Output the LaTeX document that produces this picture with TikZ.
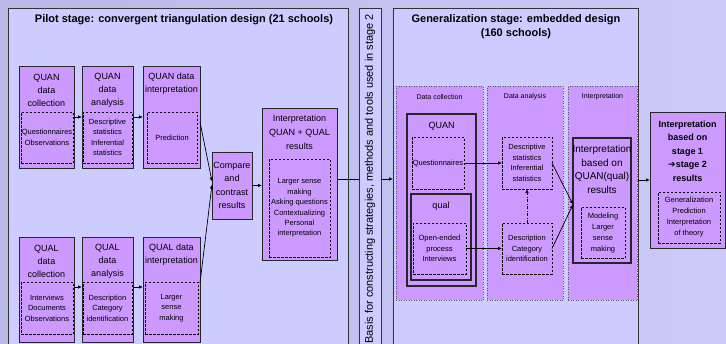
\documentclass[tikz,border=0pt]{standalone}
\usepackage{fontspec}
\setmainfont{Liberation Sans}
\newfontfamily\dejavu{DejaVu Sans}
\usetikzlibrary{arrows.meta}
\definecolor{outerL}{HTML}{B8B8E8}
\definecolor{outerR}{HTML}{CBCBF8}
\definecolor{panelfill}{HTML}{CCCCFF}
\definecolor{boxfill}{HTML}{CC99FF}
\definecolor{edge}{HTML}{333333}
\tikzset{
 wh/.style 2 args={minimum width=#1pt, minimum height=#2pt},
 panel/.style={draw=edge, line width=0.9pt, fill=panelfill, anchor=north west, inner sep=0, outer sep=0},
 box/.style={draw=black!85, line width=0.9pt, fill=boxfill, anchor=north west, inner sep=0, outer sep=0},
 dbox/.style={draw=black, line width=0.75pt, dash pattern=on 2.5pt off 1.5pt, anchor=north west, inner sep=0, outer sep=0},
 subpanel/.style={draw=gray!70!black, line width=0.5pt, dotted, fill=boxfill, anchor=north west, inner sep=0, outer sep=0},
 txt/.style={inner sep=0, align=center, text=black},
 ttl/.style={txt, font=\fontsize{9}{13}\selectfont},
 inn/.style={txt, font=\fontsize{7.5}{10.5}\selectfont},
 lbl/.style={txt, font=\fontsize{7}{9}\selectfont},
 head/.style={txt, font=\fontsize{11}{14}\selectfont\bfseries},
 arr/.style={-{Latex[length=4pt,width=3.5pt]}, line width=0.7pt, draw=black},
 plain/.style={line width=0.7pt, draw=black},
}
\begin{document}
\begin{tikzpicture}[x=1pt,y=-1pt]
\useasboundingbox (0,0) rectangle (726,343);
\clip (0,0) rectangle (726,343);
\shade[left color=outerL, right color=outerR] (0,0) rectangle (726,343);

% panels
\node[panel, wh={340}{345}] (pilot) at (8,8) {};
\node[panel, wh={22}{345}] (strip) at (359,8) {};
\node[panel, wh={245}{345}] (gen) at (393,8) {};

\node[head] (pilottitle) at (184,20) {Pilot stage: convergent triangulation design (21 schools)};
\node[txt, font=\fontsize{11}{13}\selectfont, rotate=90] (striptext) at (370,179) {Basis for constructing strategies, methods and tools used in stage 2};
\node[head] (gentitle) at (516,27) {Generalization stage: embedded design\\(160 schools)};

% ---- pilot stage: QUAN row
\node[box, wh={55}{102}] (qc) at (19,66) {};
\node[dbox, wh={52}{51}] (qcd) at (21,112) {};
\node[box, wh={51}{102}] (qa) at (82,66) {};
\node[dbox, wh={49}{51}] (qad) at (83,112) {};
\node[box, wh={57}{102}] (qi) at (143,66) {};
\node[dbox, wh={50}{51}] (qid) at (147,112) {};
\node[ttl] (qct) at (46.5,90) {QUAN\\data\\collection};
\node[ttl] (qat) at (107.5,90) {QUAN\\data\\analysis};
\node[ttl] (qit) at (171.5,83.5) {QUAN data\\interpretation};
\node[inn] (qcx) at (qcd) {Questionnaires\\Observations};
\node[inn] (qax) at (qad) {Descriptive\\statistics\\Inferential\\statistics};
\node[inn] (qix) at (qid) {Prediction};

% ---- pilot stage: QUAL row
\node[box, wh={55}{105}] (lc) at (19,237) {};
\node[dbox, wh={52}{52}] (lcd) at (21,282) {};
\node[box, wh={51}{105}] (la) at (82,237) {};
\node[dbox, wh={49}{52}] (lad) at (83,282) {};
\node[box, wh={57}{105}] (li) at (143,237) {};
\node[dbox, wh={53}{52}] (lid) at (145,282) {};
\node[ttl] (lct) at (46.5,261) {QUAL\\data\\collection};
\node[ttl] (lat) at (107.5,261) {QUAL\\data\\analysis};
\node[ttl] (lit) at (171.5,255) {QUAL data\\interpretation};
\node[inn] (lcx) at (lcd) {Interviews\\Documents\\Observations};
\node[inn] (lax) at (lad) {Description\\Category\\identification};
\node[inn] (lix) at (lid) {Larger\\sense\\making};

% ---- compare and interpretation
\node[box, wh={40}{67}] (cmp) at (212,152) {};
\node[ttl, font=\fontsize{9}{13.3}\selectfont] (cmpt) at (cmp) {Compare\\and\\contrast\\results};
\node[box, wh={75}{152}] (iq) at (262,108) {};
\node[dbox, wh={61}{98}] (iqd) at (269,159) {};
\node[ttl, font=\fontsize{9}{14}\selectfont] (iqt) at (299.5,132) {Interpretation\\QUAN + QUAL\\results};
\node[inn, font=\fontsize{7.5}{10.4}\selectfont] (iqx) at (iqd) {Larger sense\\making\\Asking questions\\Contextualizing\\Personal\\interpretation};

% arrows pilot
\draw[arr] ([yshift=-51pt]qc.north east) -- ([yshift=-51pt]qa.north west);
\draw[arr] ([yshift=-51pt]qa.north east) -- ([yshift=-51pt]qi.north west);
\draw[arr] ([yshift=-50pt]lc.north east) -- ([yshift=-50pt]la.north west);
\draw[arr] ([yshift=-50pt]la.north east) -- ([yshift=-50pt]li.north west);
\draw[arr] ([yshift=-56pt]qi.north east) -- ([yshift=4pt]cmp.west);
\draw[arr] ([yshift=-46pt]li.north east) -- ([yshift=1pt]cmp.west);
\draw[arr] (cmp.east) -- (cmp.east -| iq.west);
\draw[plain] ([yshift=5pt]iq.east) -- ([yshift=5pt]iq.east -| strip.west);
\draw[arr] ([yshift=5pt]iq.east -| strip.east) -- ([yshift=5pt]iq.east -| gen.west);

% ---- generalization stage
\node[subpanel, wh={87}{214}] (dcol) at (396,86) {};
\node[subpanel, wh={76}{214}] (dana) at (487,86) {};
\node[subpanel, wh={69}{214}] (dint) at (568,86) {};
\node[lbl] (dcolt) at (439.5,96.5) {Data collection};
\node[lbl] (danat) at (525,96.5) {Data analysis};
\node[lbl] (dintt) at (602.5,96.5) {Interpretation};

\node[box, line width=1.1pt, wh={69}{172}] (gq) at (407,114) {};
\node[ttl] (gqt) at (441.5,126) {QUAN};
\node[dbox, wh={52}{52}] (gqd) at (412,137) {};
\node[inn] (gqx) at (gqd) {Questionnaires};
\node[box, line width=1.1pt, wh={60}{86}] (gl) at (411,194) {};
\node[ttl] (glt) at (441,206) {qual};
\node[dbox, wh={53}{51}] (gld) at (413,223) {};
\node[inn] (glx) at (gld) {Open-ended\\process\\Interviews};

\node[dbox, wh={50}{52}] (gad1) at (502,137) {};
\node[inn] (gad1x) at (gad1) {Descriptive\\statistics\\Inferential\\statistics};
\node[dbox, wh={50}{51}] (gad2) at (502,223) {};
\node[inn] (gad2x) at (gad2) {Description\\Category\\identification};

\node[box, line width=1.1pt, wh={58}{125}] (gi) at (573,138) {};
\node[txt, font=\fontsize{10}{13.7}\selectfont] (git) at (602,169.5) {Interpretation\\based on\\QUAN(qual)\\results};
\node[dbox, wh={44}{51}] (gid) at (581,207) {};
\node[inn, font=\fontsize{7.5}{11}\selectfont] (gidx) at (603,233) {Modeling\\Larger\\sense\\making};

\node[box, wh={75}{136}] (fin) at (650,112) {};
\node[txt, font=\fontsize{9}{13.5}\selectfont\bfseries] (fint) at (687.5,151) {Interpretation\\based on\\stage 1\\{\dejavu\mdseries ➔}stage 2\\results};
\node[dbox, wh={62}{51}] (find) at (658,192) {};
\node[inn, font=\fontsize{7.5}{11}\selectfont] (findx) at (find) {Generalization\\Prediction\\Interpretation\\of theory};

% arrows generalization
\draw[arr] (gqd.east) -- (gqd.east -| gad1.west);
\draw[arr] (gld.east) -- (gld.east -| gad2.west);
\draw[arr, dash pattern=on 3pt off 1.5pt on 1pt off 1.5pt] (gad2.north) -- (gad1.south);
\draw[arr] (gad1.east) -- ([yshift=-4pt]gi.west);
\draw[arr] (gad2.east) -- ([yshift=-4pt]gi.west);
\draw[arr] (fin.west -| gen.east) -- (fin.west);
\end{tikzpicture}
\end{document}
